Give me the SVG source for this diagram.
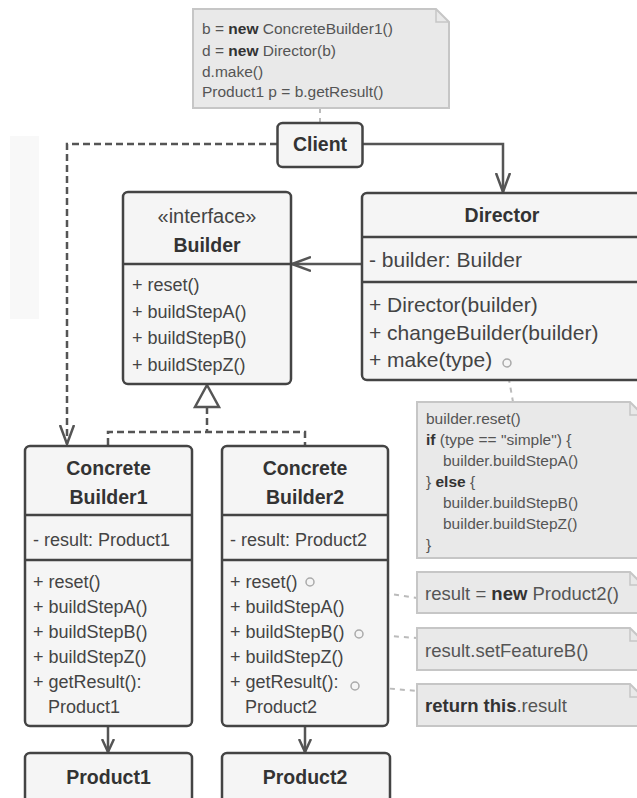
<svg xmlns="http://www.w3.org/2000/svg" width="637" height="798" viewBox="0 0 637 798">
<style>
.box{fill:#f5f5f5;stroke:#444;stroke-width:2.5}
.div{stroke:#444;stroke-width:2.5}
.note{fill:#e9e9e9;stroke:#c6c6c6;stroke-width:2}
.fold{fill:none;stroke:#c6c6c6;stroke-width:1.5}
text{font-family:"Liberation Sans",Arial,sans-serif}
.t{font-size:19.5px;font-weight:bold;fill:#333;text-anchor:middle}
.it{font-size:20px;fill:#444;text-anchor:middle}
.m{font-size:18px;fill:#444}
.dm{font-size:21px;fill:#444}
.n1{font-size:15.5px;fill:#555}
.n2{font-size:18.5px;fill:#555}
.b{font-weight:bold;fill:#333}
.solid{fill:none;stroke:#555;stroke-width:2.5}
.dash{fill:none;stroke:#555;stroke-width:2.5;stroke-dasharray:7 4}
.dot{fill:none;stroke:#bbb;stroke-width:2;stroke-dasharray:5 5}
.circ{fill:none;stroke:#aaa;stroke-width:1.5}
</style>
<defs>
<marker id="arr" viewBox="0 0 20 16" refX="19" refY="8" markerWidth="20" markerHeight="16" markerUnits="userSpaceOnUse" orient="auto">
<path d="M0,1 L19,8 L0,15" fill="none" stroke="#555" stroke-width="2.5"/>
</marker>
<marker id="arrs" viewBox="0 0 14 14" refX="13" refY="7" markerWidth="14" markerHeight="14" markerUnits="userSpaceOnUse" orient="auto">
<path d="M0,1 L13,7 L0,13" fill="none" stroke="#555" stroke-width="2.5"/>
</marker>
</defs>
<rect width="637" height="798" fill="#fff"/>
<rect x="10" y="136" width="29" height="183" fill="#f8f8f8"/>

<g id="connectors">
<path class="dot" d="M320,108 V123"/>
<path class="dash" d="M277,144 H67 V444" marker-end="url(#arr)"/>
<path class="solid" d="M363,144 H503 V192" marker-end="url(#arr)"/>
<path class="solid" d="M362,264 H292" marker-end="url(#arr)"/>
<path class="dash" d="M207,407 V432 M108,445 V432 H305 V445"/>
<path d="M207,385 L195,407 H219 Z" fill="#fff" stroke="#555" stroke-width="2.5"/>
<path class="solid" d="M108,727 V752" marker-end="url(#arrs)"/>
<path class="solid" d="M305,727 V752" marker-end="url(#arrs)"/>
<path class="dot" d="M507,368 L513,402"/>
<path class="dot" d="M315,582 L417,598"/>
<path class="dot" d="M364,634 L417,638"/>
<path class="dot" d="M360,686 L417,691"/>
</g>

<g id="note-client">
<path class="note" d="M193,9 H436 L449,22 V108 H193 Z"/>
<path class="fold" d="M436,9 V22 H449"/>
<text class="n1" x="202" y="34">b = <tspan class="b">new</tspan> ConcreteBuilder1()</text>
<text class="n1" x="202" y="55.5">d = <tspan class="b">new</tspan> Director(b)</text>
<text class="n1" x="202" y="76.5">d.make()</text>
<text class="n1" x="202" y="97">Product1 p = b.getResult()</text>
</g>

<g id="client">
<rect class="box" x="277.5" y="123" width="85" height="44" rx="5"/>
<text class="t" x="320" y="151">Client</text>
</g>

<g id="builder">
<rect class="box" x="123" y="192" width="168" height="192" rx="5"/>
<line class="div" x1="123" y1="264" x2="291" y2="264"/>
<text class="it" x="207" y="223">«interface»</text>
<text class="t" x="207" y="252">Builder</text>
<text class="m" x="132" y="291">+ reset()</text>
<text class="m" x="132" y="318">+ buildStepA()</text>
<text class="m" x="132" y="344">+ buildStepB()</text>
<text class="m" x="132" y="371">+ buildStepZ()</text>
</g>

<g id="director">
<rect class="box" x="362" y="193" width="280" height="187" rx="5"/>
<line class="div" x1="362" y1="237" x2="642" y2="237"/>
<line class="div" x1="362" y1="282" x2="642" y2="282"/>
<text class="t" x="502" y="222">Director</text>
<text class="dm" x="369" y="267">- builder: Builder</text>
<text class="dm" x="369" y="312">+ Director(builder)</text>
<text class="dm" x="369" y="340">+ changeBuilder(builder)</text>
<text class="dm" x="369" y="367">+ make(type)</text>
<circle class="circ" cx="507" cy="363" r="4"/>
</g>

<g id="note-director">
<path class="note" d="M417,402 H630 L643,415 V558 H417 Z"/>
<path class="fold" d="M630,402 V415 H643"/>
<text class="n1" x="426" y="424">builder.reset()</text>
<text class="n1" x="426" y="445"><tspan class="b">if</tspan> (type == "simple") {</text>
<text class="n1" x="443" y="466">builder.buildStepA()</text>
<text class="n1" x="426" y="487">} <tspan class="b">else</tspan> {</text>
<text class="n1" x="443" y="508">builder.buildStepB()</text>
<text class="n1" x="443" y="529">builder.buildStepZ()</text>
<text class="n1" x="426" y="550">}</text>
</g>

<g id="concrete-builder1">
<rect class="box" x="25" y="446" width="167" height="280" rx="5"/>
<line class="div" x1="25" y1="515" x2="192" y2="515"/>
<line class="div" x1="25" y1="560" x2="192" y2="560"/>
<text class="t" x="108.5" y="475">Concrete</text>
<text class="t" x="108.5" y="504">Builder1</text>
<text class="m" x="33" y="545.5">- result: Product1</text>
<text class="m" x="33" y="588">+ reset()</text>
<text class="m" x="33" y="613">+ buildStepA()</text>
<text class="m" x="33" y="638">+ buildStepB()</text>
<text class="m" x="33" y="663">+ buildStepZ()</text>
<text class="m" x="33" y="688">+ getResult():</text>
<text class="m" x="48" y="713">Product1</text>
</g>

<g id="concrete-builder2">
<rect class="box" x="222" y="446" width="166" height="280" rx="5"/>
<line class="div" x1="222" y1="515" x2="388" y2="515"/>
<line class="div" x1="222" y1="560" x2="388" y2="560"/>
<text class="t" x="305" y="475">Concrete</text>
<text class="t" x="305" y="504">Builder2</text>
<text class="m" x="230" y="545.5">- result: Product2</text>
<text class="m" x="230" y="588">+ reset()</text>
<text class="m" x="230" y="613">+ buildStepA()</text>
<text class="m" x="230" y="638">+ buildStepB()</text>
<text class="m" x="230" y="663">+ buildStepZ()</text>
<text class="m" x="230" y="688">+ getResult():</text>
<text class="m" x="245" y="713">Product2</text>
<circle class="circ" cx="310" cy="582" r="4"/>
<circle class="circ" cx="359" cy="634" r="4"/>
<circle class="circ" cx="355" cy="686" r="4"/>
</g>

<g id="note-reset">
<path class="note" d="M417,572 H630 L643,585 V613 H417 Z"/>
<path class="fold" d="M630,572 V585 H643"/>
<text class="n2" x="425" y="600">result = <tspan class="b">new</tspan> Product2()</text>
</g>
<g id="note-stepb">
<path class="note" d="M417,628 H630 L643,641 V670 H417 Z"/>
<path class="fold" d="M630,628 V641 H643"/>
<text class="n2" x="425" y="657">result.setFeatureB()</text>
</g>
<g id="note-result">
<path class="note" d="M417,684 H630 L643,697 V726 H417 Z"/>
<path class="fold" d="M630,684 V697 H643"/>
<text class="n2" x="425" y="712"><tspan class="b">return this</tspan>.result</text>
</g>

<g id="product1">
<rect class="box" x="25" y="753" width="167" height="60" rx="5"/>
<text class="t" x="108.5" y="784">Product1</text>
</g>
<g id="product2">
<rect class="box" x="222" y="753" width="168" height="60" rx="5"/>
<text class="t" x="305" y="784">Product2</text>
</g>
</svg>
